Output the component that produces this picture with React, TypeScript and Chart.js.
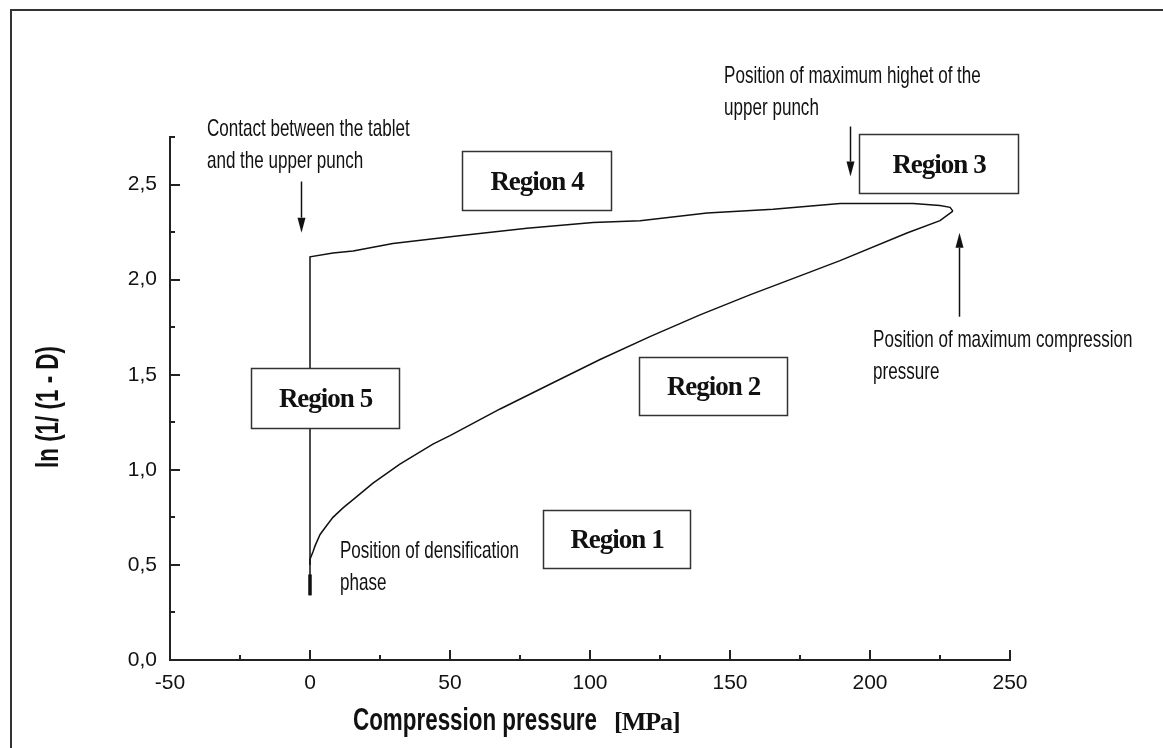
import React, { useEffect, useRef } from 'react';
import { Chart, registerables } from 'chart.js';

Chart.register(...registerables);

// Compression (loading) branch: pressure [MPa] vs ln(1/(1-D))
const loadingPressure = [0, 0, 1.1, 1.8, 3.6, 6.1, 8.2, 11.8, 16.8, 22.5, 32.1, 43.9, 50, 67.9, 85.7, 103.6, 121.4, 139.3, 157.1, 175, 189.3, 213.2, 225, 229.6];
const loadingLnD = [0.34, 0.53, 0.57, 0.6, 0.66, 0.71, 0.75, 0.8, 0.86, 0.93, 1.03, 1.135, 1.18, 1.32, 1.45, 1.58, 1.7, 1.815, 1.92, 2.02, 2.1, 2.245, 2.31, 2.36];

// Decompression (unloading) branch, ending on the vertical drop at zero pressure
const unloadingPressure = [229.6, 228.6, 225.0, 215.4, 200, 189.3, 165.4, 141.8, 117.9, 101.1, 77.5, 52.5, 29.6, 15.4, 8.2, 0, 0];
const unloadingLnD = [2.36, 2.38, 2.39, 2.4, 2.4, 2.4, 2.37, 2.35, 2.31, 2.3, 2.27, 2.23, 2.19, 2.15, 2.14, 2.12, 0.5];

// Short heavy segment at the start of densification
const startPressure = [0, 0];
const startLnD = [0.34, 0.45];

// Axis ranges and tick steps
const xRange = [-50, 250];
const yRange = [0, 2.75];
const xMajorStep = 50;
const yMajorStep = 0.5;

// Region boxes: [label, xFrom, xTo, yTop, yBottom] in data units
const regionLabels = ['Region 1', 'Region 2', 'Region 3', 'Region 4', 'Region 5'];
const regionX0 = [83.2, 117.5, 196.1, 54.3, -21.1];
const regionX1 = [135.7, 170.4, 252.9, 107.5, 31.8];
const regionYTop = [0.789, 1.595, 2.768, 2.674, 1.537];
const regionYBottom = [0.484, 1.289, 2.453, 2.368, 1.221];

// Explanatory notes: text lines, left x, first-line baseline y (data units)
const noteLines = [
  ['Contact between the tablet', 'and the upper punch'],
  ['Position of maximum highet of the', 'upper punch'],
  ['Position of maximum compression', 'pressure'],
  ['Position of densification', 'phase'],
];
const noteX = [-36.8, 147.9, 201.1, 10.7];
const noteY = [2.753, 3.032, 1.647, 0.537];

// Arrows: x, tail y, tip y (data units)
const arrowX = [-3.2, 192.9, 231.8];
const arrowFrom = [2.516, 2.805, 1.805];
const arrowTip = [2.247, 2.542, 2.247];

const INK = '#111';
const NOTE_FONT = '24px "Liberation Sans", Arial, sans-serif';
const TITLE_FONT = 'bold 32px "Liberation Sans", Arial, sans-serif';
const TICK_FAMILY = '"Liberation Sans Narrow", "Liberation Sans", Arial, sans-serif';

function narrowText(ctx: CanvasRenderingContext2D, text: string, x: number, y: number, font: string, sx: number) {
  ctx.save();
  ctx.font = font;
  ctx.textAlign = 'left';
  ctx.textBaseline = 'alphabetic';
  ctx.translate(x, y);
  ctx.scale(sx, 1);
  ctx.fillText(text, 0, 0);
  ctx.restore();
}

function drawArrow(ctx: CanvasRenderingContext2D, x: number, y0: number, y1: number) {
  const dir = Math.sign(y1 - y0);
  const head = 15;
  const hw = 4;
  ctx.beginPath();
  ctx.moveTo(x, y0);
  ctx.lineTo(x, y1 - dir * head);
  ctx.stroke();
  ctx.beginPath();
  ctx.moveTo(x, y1);
  ctx.lineTo(x - hw, y1 - dir * head);
  ctx.lineTo(x + hw, y1 - dir * head);
  ctx.closePath();
  ctx.fill();
}

const decorations = {
  id: 'decorations',
  afterDraw(chart: any) {
    const { ctx, chartArea, scales } = chart;
    const xs = scales.x;
    const ys = scales.y;
    ctx.save();

    // figure frame
    ctx.strokeStyle = '#333';
    ctx.lineWidth = 2;
    ctx.beginPath();
    ctx.moveTo(11, chart.height);
    ctx.lineTo(11, 10);
    ctx.lineTo(chart.width, 10);
    ctx.stroke();

    // inward tick marks, majors and minors
    ctx.strokeStyle = '#222';
    ctx.lineWidth = 2;
    for (let v = xRange[0]; v <= xRange[1] + 1e-9; v += xMajorStep / 2) {
      const major = Math.abs(v / xMajorStep - Math.round(v / xMajorStep)) < 1e-6;
      const px = Math.round(xs.getPixelForValue(v));
      ctx.beginPath();
      ctx.moveTo(px, chartArea.bottom);
      ctx.lineTo(px, chartArea.bottom - (major ? 10 : 5));
      ctx.stroke();
    }
    for (let v = yRange[0]; v <= yRange[1] + 1e-9; v += yMajorStep / 2) {
      const major = Math.abs(v / yMajorStep - Math.round(v / yMajorStep)) < 1e-6;
      const py = Math.round(ys.getPixelForValue(v));
      ctx.beginPath();
      ctx.moveTo(chartArea.left, py);
      ctx.lineTo(chartArea.left + (major ? 10 : 5), py);
      ctx.stroke();
    }

    // axis titles
    ctx.fillStyle = INK;
    narrowText(ctx, 'Compression pressure', chartArea.left + 183, chartArea.bottom + 70, TITLE_FONT, 0.7);
    ctx.save();
    ctx.font = 'bold 26px "Liberation Serif", "Times New Roman", serif';
    ctx.letterSpacing = '-1px';
    ctx.textBaseline = 'alphabetic';
    ctx.fillText('[MPa]', chartArea.left + 444, chartArea.bottom + 70);
    ctx.restore();
    ctx.save();
    ctx.translate(58, 468);
    ctx.rotate(-Math.PI / 2);
    ctx.scale(0.7, 1);
    ctx.font = TITLE_FONT;
    ctx.textBaseline = 'alphabetic';
    ctx.fillText('ln (1/ (1 - D)', 0, 0);
    ctx.restore();

    // region boxes
    regionLabels.forEach((label, i) => {
      const x0 = Math.round(xs.getPixelForValue(regionX0[i])) + 0.5;
      const x1 = Math.round(xs.getPixelForValue(regionX1[i])) + 0.5;
      const y0 = Math.round(ys.getPixelForValue(regionYTop[i])) + 0.5;
      const y1 = Math.round(ys.getPixelForValue(regionYBottom[i])) + 0.5;
      ctx.fillStyle = '#fff';
      ctx.fillRect(x0, y0, x1 - x0, y1 - y0);
      ctx.strokeStyle = '#333';
      ctx.lineWidth = 1.5;
      ctx.strokeRect(x0, y0, x1 - x0, y1 - y0);
      ctx.save();
      ctx.fillStyle = INK;
      ctx.font = 'bold 27px "Liberation Serif", "Times New Roman", serif';
      ctx.letterSpacing = '-1px';
      ctx.textAlign = 'center';
      ctx.textBaseline = 'middle';
      ctx.fillText(label, (x0 + x1) / 2, (y0 + y1) / 2 + 2);
      ctx.restore();
    });

    // notes
    ctx.fillStyle = INK;
    noteLines.forEach((lines, i) => {
      const x = xs.getPixelForValue(noteX[i]);
      const y = ys.getPixelForValue(noteY[i]);
      lines.forEach((t, j) => narrowText(ctx, t, x, y + j * 32, NOTE_FONT, 0.71));
    });

    // arrows
    ctx.strokeStyle = INK;
    ctx.fillStyle = INK;
    ctx.lineWidth = 1.5;
    arrowX.forEach((ax, i) => {
      const x = Math.round(xs.getPixelForValue(ax)) + 0.5;
      drawArrow(ctx, x, ys.getPixelForValue(arrowFrom[i]), ys.getPixelForValue(arrowTip[i]));
    });

    ctx.restore();
  },
};

const toPoints = (xv: number[], yv: number[]) => xv.map((x, i) => ({ x, y: yv[i] }));

export default function App() {
  const ref = useRef<HTMLCanvasElement>(null);

  useEffect(() => {
    const canvas = ref.current;
    if (!canvas) return;
    const lineStyle = {
      showLine: true,
      borderColor: INK,
      backgroundColor: INK,
      pointRadius: 0,
      pointHoverRadius: 0,
      tension: 0,
      fill: false,
    };
    const chart = new Chart(canvas, {
      type: 'scatter',
      data: {
        datasets: [
          { ...lineStyle, label: 'loading', data: toPoints(loadingPressure, loadingLnD), borderWidth: 1.5 },
          { ...lineStyle, label: 'unloading', data: toPoints(unloadingPressure, unloadingLnD), borderWidth: 1.5 },
          { ...lineStyle, label: 'start', data: toPoints(startPressure, startLnD), borderWidth: 3.5 },
        ],
      },
      options: {
        responsive: false,
        animation: false,
        devicePixelRatio: 1,
        layout: { padding: { left: 0, right: 153, top: 137, bottom: 0 } },
        plugins: { legend: { display: false }, tooltip: { enabled: false } },
        events: [],
        scales: {
          x: {
            type: 'linear',
            position: 'bottom',
            min: xRange[0],
            max: xRange[1],
            grid: { display: true, drawOnChartArea: false, drawTicks: false },
            border: { display: true, color: '#222', width: 2 },
            ticks: {
              stepSize: xMajorStep,
              includeBounds: false,
              autoSkip: false,
              maxRotation: 0,
              padding: 11,
              color: INK,
              font: { family: TICK_FAMILY, size: 21 },
            },
            afterFit: (s: any) => { s.height = 88; },
          },
          y: {
            type: 'linear',
            position: 'left',
            min: yRange[0],
            max: yRange[1],
            grid: { display: true, drawOnChartArea: false, drawTicks: false },
            border: { display: true, color: '#222', width: 2 },
            ticks: {
              stepSize: yMajorStep,
              includeBounds: false,
              padding: 13,
              color: INK,
              font: { family: TICK_FAMILY, size: 21 },
              callback: (v: any) => Number(v).toFixed(1).replace('.', ','),
            },
            afterFit: (s: any) => { s.width = 170; },
          },
        },
      },
      plugins: [decorations],
    } as any);
    return () => chart.destroy();
  }, []);

  return (
    <div style={{ position: 'fixed', left: 0, top: 0, width: 1163, height: 748, background: '#fff' }}>
      <canvas ref={ref} width={1163} height={748} style={{ display: 'block', width: 1163, height: 748 }} />
    </div>
  );
}
